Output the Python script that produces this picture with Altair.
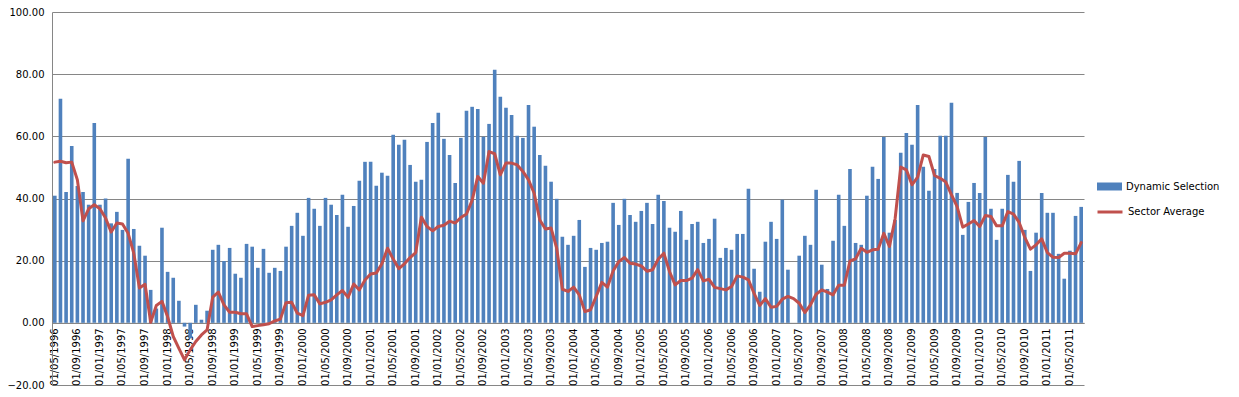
import altair as alt
import pandas as pd

# Monthly categories, 05/1996 .. 07/2011 (Excel category axis, label "01/MM/YYYY")
months = []
yy, mm = 1996, 5
for _ in range(183):
    months.append(f"01/{mm:02d}/{yy}")
    mm += 1
    if mm > 12:
        mm = 1
        yy += 1

tick_labels = months[::4]
y_ticks = [-20, 0, 20, 40, 60, 80, 100]

dynamic_selection = [
    40.9, 72.1, 42.1, 56.9, 44.0, 42.1, 38.0, 64.3, 38.0, 40.0,
    32.0, 35.7, 29.9, 52.8, 30.2, 24.8, 21.6, 10.6, 4.6, 30.6,
    16.4, 14.5, 7.1, -1.2, -5.0, 5.8, 1.0, 3.9, 23.5, 25.1,
    19.9, 24.1, 15.8, 14.5, 25.4, 24.5, 17.7, 23.8, 16.1, 17.7,
    16.7, 24.5, 31.2, 35.4, 28.0, 40.2, 36.7, 31.2, 40.2, 38.0,
    34.7, 41.2, 30.9, 37.6, 45.7, 51.8, 51.8, 44.1, 48.3, 47.3,
    60.5, 57.3, 58.9, 50.8, 45.4, 46.0, 58.2, 64.3, 67.6, 59.2,
    54.0, 45.0, 59.5, 68.2, 69.5, 68.8, 59.9, 64.0, 81.4, 72.7,
    69.2, 66.9, 60.2, 59.5, 70.1, 63.1, 54.0, 50.5, 45.4, 39.9,
    27.7, 25.1, 28.0, 33.1, 18.0, 24.1, 23.5, 25.7, 26.1, 38.6,
    31.5, 39.9, 34.7, 32.5, 36.0, 38.6, 31.8, 41.2, 39.2, 30.6,
    29.3, 36.0, 26.7, 31.8, 32.5, 25.7, 27.0, 33.5, 20.9, 24.1,
    23.5, 28.6, 28.6, 43.1, 17.4, 10.0, 26.1, 32.5, 27.0, 39.6,
    17.1, 0.0, 21.6, 28.0, 25.1, 42.8, 18.7, 10.9, 26.4, 41.2,
    31.2, 49.5, 25.7, 25.1, 40.9, 50.2, 46.3, 59.8, 29.0, 33.1,
    54.7, 61.1, 57.3, 70.1, 50.2, 42.5, 49.5, 60.2, 60.2, 70.8,
    41.8, 28.3, 38.9, 45.0, 41.8, 59.8, 36.7, 26.7, 36.7, 47.6,
    45.4, 52.1, 29.9, 16.7, 29.0, 41.8, 35.4, 35.4, 22.2, 14.2,
    23.2, 34.4, 37.3,
]

sector_average = [
    51.7, 52.0, 51.5, 51.7, 46.0, 32.8, 36.7, 38.0, 36.7, 33.7,
    29.2, 32.1, 31.8, 28.8, 22.4, 11.2, 12.4, 0.2, 5.6, 6.9,
    2.0, -4.4, -8.2, -11.9, -8.7, -6.0, -3.9, -2.3, 8.3, 9.9,
    5.8, 3.4, 3.4, 2.9, 2.9, -1.2, -0.9, -0.6, -0.3, 0.6,
    1.2, 6.5, 6.6, 3.1, 2.3, 8.9, 9.0, 6.1, 6.6, 7.4,
    9.0, 10.4, 8.2, 12.5, 10.6, 13.8, 15.7, 16.0, 19.0, 24.0,
    20.5, 17.4, 19.0, 21.0, 22.6, 34.0, 31.0, 29.6, 31.0, 31.4,
    32.7, 32.1, 33.9, 35.0, 39.4, 47.1, 44.9, 55.1, 54.4, 47.6,
    51.4, 51.4, 50.8, 48.7, 46.0, 41.7, 33.1, 30.2, 30.5, 24.0,
    10.8, 10.1, 11.5, 9.0, 3.6, 4.2, 8.5, 13.0, 11.5, 16.7,
    19.7, 21.0, 19.2, 18.9, 18.3, 16.6, 17.1, 20.5, 22.4, 16.5,
    12.2, 13.6, 13.6, 14.4, 17.1, 13.5, 14.0, 11.4, 11.0, 10.6,
    11.7, 15.1, 14.7, 13.8, 9.5, 5.6, 7.8, 5.0, 5.3, 7.6,
    8.5, 7.8, 6.3, 3.3, 5.8, 9.2, 10.6, 9.9, 9.0, 12.1,
    12.1, 19.9, 20.6, 24.0, 22.7, 23.5, 23.7, 28.8, 24.6, 33.4,
    50.1, 49.2, 44.4, 46.9, 54.0, 53.5, 47.4, 46.5, 45.3, 41.2,
    37.4, 30.8, 31.8, 32.9, 31.0, 34.5, 34.2, 31.2, 31.2, 35.8,
    35.0, 32.3, 27.5, 23.7, 25.1, 27.0, 22.6, 21.1, 21.0, 22.4,
    22.4, 22.2, 25.8,
]

series_names = ["Dynamic Selection", "Sector Average"]
series_colors = ["#4F81BD", "#C0504D"]

df = pd.DataFrame({
    "month": months,
    "dyn": dynamic_selection,
    "sec": sector_average,
    "s1": series_names[0],
    "s2": series_names[1],
})

WIDTH = 1032
HEIGHT = 373
FONT = "DejaVu Sans"
GRID = "#868686"

x_enc = alt.X(
    "month:N",
    sort=months,
    scale=alt.Scale(paddingInner=0.36, paddingOuter=0.18),
    axis=alt.Axis(
        values=tick_labels,
        labelAngle=270,
        labelOverlap=False,
        offset=-HEIGHT * 20 / 120,
        ticks=False,
        domainColor=GRID,
        labelFont=FONT,
        labelFontSize=10,
        labelColor="#000000",
        labelPadding=5,
        title=None,
    ),
)

y_axis = alt.Axis(
    values=y_ticks,
    format=".2f",
    grid=True,
    gridColor=GRID,
    gridWidth=1,
    domainColor=GRID,
    ticks=False,
    labelFont=FONT,
    labelFontSize=10,
    labelColor="#000000",
    labelPadding=8,
    title=None,
)

bars = alt.Chart(df).mark_bar().encode(
    x=x_enc,
    y=alt.Y("dyn:Q", scale=alt.Scale(domain=[-20, 100], nice=False), axis=y_axis),
    color=alt.Color(
        "s1:N",
        scale=alt.Scale(domain=[series_names[0]], range=[series_colors[0]]),
        legend=alt.Legend(
            title=None,
            orient="none",
            legendX=1045,
            legendY=162,
            symbolType="M-1,-0.32H1V0.32H-1Z",
            symbolSize=625,
            symbolStrokeWidth=0,
            symbolOpacity=1,
            labelFont=FONT,
            labelFontSize=10,
            labelColor="#000000",
            labelOffset=4,
            padding=0,
        ),
    ),
)

line = alt.Chart(df).mark_line(strokeWidth=3, strokeJoin="round", strokeCap="round").encode(
    x=x_enc,
    y=alt.Y("sec:Q", scale=alt.Scale(domain=[-20, 100], nice=False), axis=y_axis),
    stroke=alt.Stroke(
        "s2:N",
        scale=alt.Scale(domain=[series_names[1]], range=[series_colors[1]]),
        legend=alt.Legend(
            title=None,
            orient="none",
            legendX=1044,
            legendY=186,
            symbolType="stroke",
            symbolSize=625,
            symbolStrokeWidth=3,
            labelFont=FONT,
            labelFontSize=10,
            labelColor="#000000",
            labelOffset=4,
            padding=0,
        ),
    ),
)

chart = (
    alt.layer(bars, line)
    .properties(
        width=WIDTH,
        height=HEIGHT,
        autosize=alt.AutoSizeParams(type="none"),
        padding={"left": 44, "top": 4, "right": 147, "bottom": 4},
        background="white",
    )
    .configure_view(strokeWidth=0)
)

chart.save("out.html", embed_options={"renderer": "svg", "actions": False})
